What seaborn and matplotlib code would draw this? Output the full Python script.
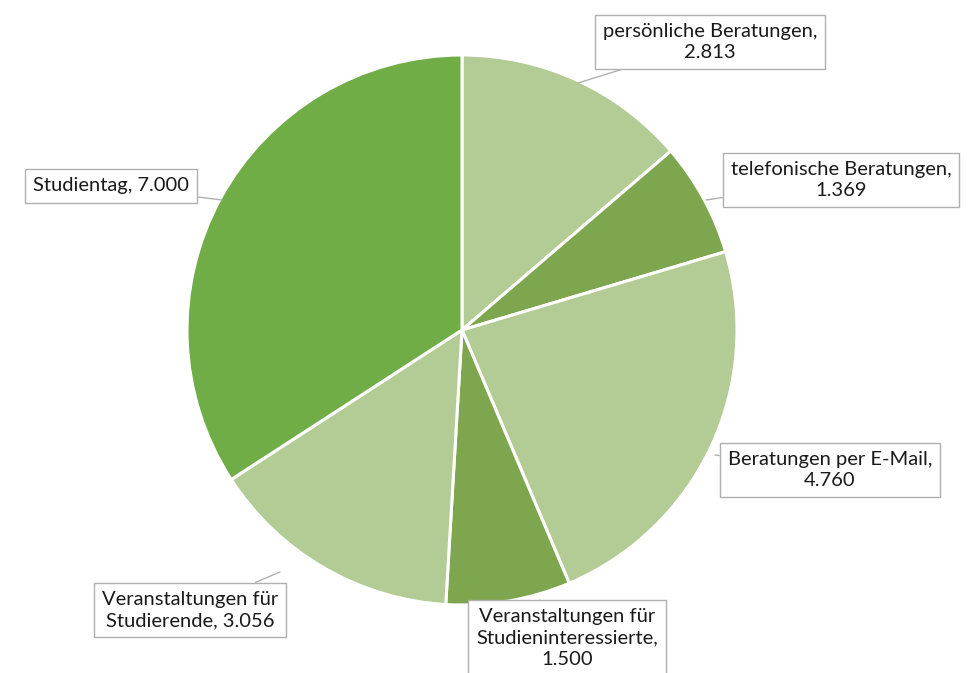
import matplotlib
matplotlib.use("Agg")
import matplotlib.pyplot as plt
import seaborn as sns

categories = ["persönliche Beratungen", "telefonische Beratungen", "Beratungen per E-Mail",
              "Veranstaltungen für Studieninteressierte", "Veranstaltungen für Studierende", "Studientag"]
values = [2.813, 1.369, 4.760, 1.500, 3.056, 7.000]
labels = ["persönliche Beratungen,\n2.813", "telefonische Beratungen,\n1.369", "Beratungen per E-Mail,\n4.760",
          "Veranstaltungen für\nStudieninteressierte,\n1.500", "Veranstaltungen für\nStudierende, 3.056",
          "Studientag, 7.000"]
colors = ["#b3cb94", "#7ea64e", "#b3cb94", "#7ea64e", "#b3cb94", "#70ad47"]

sns.set_theme(style="white")
plt.rcParams["font.family"] = ["Lato", "DejaVu Sans"]

fig = plt.figure(figsize=(9.69, 6.73), dpi=100)
ax = fig.add_axes([0, 0, 1, 1])

H = 673
cx, cy, r = 462, H - 330, 275
ax.pie(values, colors=colors, startangle=90, counterclock=False, center=(cx, cy), radius=r,
       wedgeprops=dict(edgecolor="white", linewidth=2.2))
ax.set_xlim(0, 969)
ax.set_ylim(0, H)
ax.set_aspect("equal")
ax.axis("off")

# label boxes: text centre and the point on the pie it refers to (pixel coords, y down)
label_pos = [(710, 42), (841, 180), (830, 470), (567, 638), (190, 610), (111, 186)]
anchor_pos = [(578, 83), (706, 200), (715, 455), (540, 600), (280, 572), (222, 200)]

for lab, (tx, ty), (axx, ayy) in zip(labels, label_pos, anchor_pos):
    ax.annotate(lab, xy=(axx, H - ayy), xytext=(tx, H - ty), ha="center", va="center",
                fontsize=14.5, color="#1a1a1a", linespacing=1.3,
                bbox=dict(boxstyle="square,pad=0.4", fc="white", ec="#b0b0b0", lw=1),
                arrowprops=dict(arrowstyle="-", color="#b0b0b0", lw=1, shrinkA=0, shrinkB=0))

fig.savefig("out.png", dpi=100)
